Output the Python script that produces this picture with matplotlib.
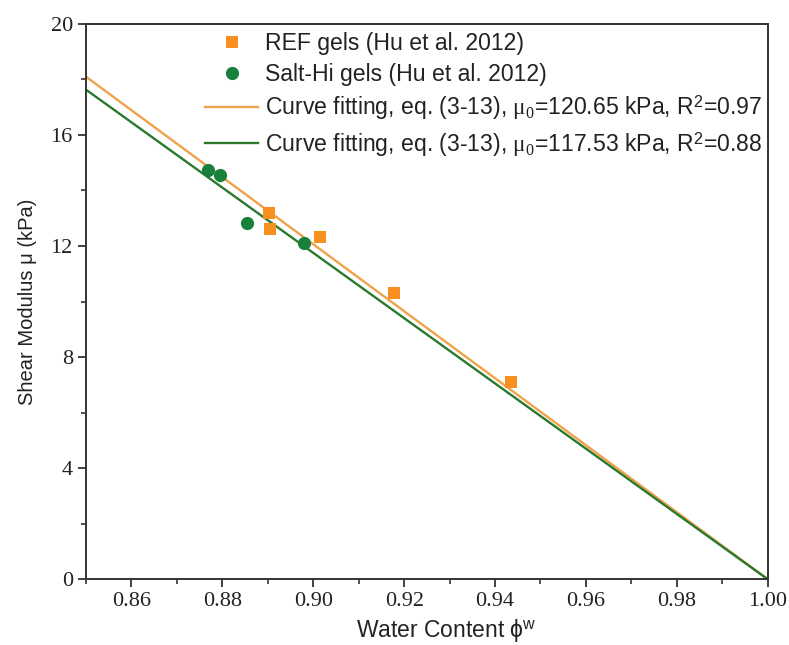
import numpy as np
import matplotlib.pyplot as plt

plt.rcParams['font.family'] = ['Liberation Sans', 'DejaVu Sans']
plt.rcParams['mathtext.fontset'] = 'custom'
plt.rcParams['mathtext.rm'] = 'Liberation Serif'
plt.rcParams['mathtext.it'] = 'Liberation Serif:italic'
plt.rcParams['mathtext.sf'] = 'Liberation Sans'

# REF gels (Hu et al. 2012)
ref_phi = [0.8902, 0.8905, 0.9015, 0.9177, 0.9435]
ref_mu = [13.19, 12.61, 12.32, 10.31, 7.10]

# Salt-Hi gels (Hu et al. 2012)
salt_phi = [0.8768, 0.8795, 0.8854, 0.8979]
salt_mu = [14.74, 14.56, 12.83, 12.11]

# fitted mu0 for eq. (3-13): mu = mu0 * (1 - phi_w)
mu0_ref = 120.65
mu0_salt = 117.53
r2_ref = 0.97
r2_salt = 0.88

orange_pt = '#F7901E'
orange_ln = '#EFA24A'
green_pt = '#17803A'
green_ln = '#2A7A2E'

fig, ax = plt.subplots(figsize=(7.89, 6.45), dpi=100)
fig.subplots_adjust(left=0.109, right=0.973, bottom=0.102, top=0.963)

fit_label = 'Curve fitting, eq. (3-13), $\\mathrm{\\mu}_0$=%.2f kPa, R$^{\\mathsf{2}}$=%.2f'

phi = np.array([0.85, 1.00])
ax.plot(ref_phi, ref_mu, 's', color=orange_pt, ms=8.5, mew=0,
        label='REF gels (Hu et al. 2012)', zorder=3)
ax.plot(salt_phi, salt_mu, 'o', color=green_pt, ms=9.5, mew=0,
        label='Salt-Hi gels (Hu et al. 2012)', zorder=3)
ax.plot(phi, mu0_ref * (1 - phi), '-', color=orange_ln, lw=1.7,
        label=fit_label % (mu0_ref, r2_ref))
ax.plot(phi, mu0_salt * (1 - phi), '-', color=green_ln, lw=1.7,
        label=fit_label % (mu0_salt, r2_salt))

ax.set_xlim(0.85, 1.00)
ax.set_ylim(0, 20)
ax.set_xticks(np.arange(0.86, 1.001, 0.02))
ax.set_xticks(np.arange(0.85, 1.001, 0.01), minor=True)
ax.set_yticks(np.arange(0, 21, 4))
ax.set_yticks(np.arange(0, 21, 2), minor=True)
ax.xaxis.set_major_formatter(plt.FormatStrFormatter('%.2f'))

for s in ax.spines.values():
    s.set_linewidth(1.4)
    s.set_color('#333333')
ax.tick_params(which='major', direction='out', length=6, width=1.3, color='#333333')
ax.tick_params(which='minor', direction='out', length=3.5, width=1.2, color='#333333')
for lab in ax.get_xticklabels() + ax.get_yticklabels():
    lab.set_family('Liberation Serif')
    lab.set_fontsize(16)
    lab.set_color('#222222')

ax.set_xlabel('Water Content \u03d5$^{\\mathsf{w}}$', fontsize=16.5, color='#222222')
ax.xaxis.set_label_coords(0.529, -0.068)
ax.set_ylabel('Shear Modulus \u03bc (kPa)', fontsize=14.5, color='#222222', labelpad=10)

ax.legend(loc='upper left', bbox_to_anchor=(0.175, 0.985), frameon=False,
          fontsize=16.6, handlelength=2.3, handletextpad=0.3, labelspacing=0.33,
          borderpad=0, borderaxespad=0, labelcolor='#222222')

fig.savefig('out.png', dpi=100)
